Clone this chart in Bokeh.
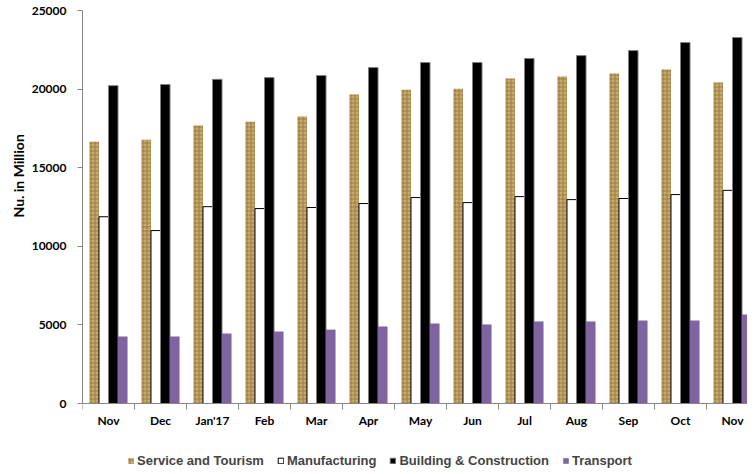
from bokeh.plotting import figure
from bokeh.models import ColumnDataSource, FixedTicker, Legend, LegendItem, Range1d, Title
from bokeh.transform import dodge
from bokeh.embed import file_html
from bokeh.resources import INLINE

months = ["Nov", "Dec", "Jan'17", "Feb", "Mar", "Apr", "May", "Jun", "Jul", "Aug", "Sep", "Oct", "Nov"]
service = [16650, 16780, 17680, 17930, 18250, 19650, 19960, 20030, 20670, 20800, 20990, 21240, 20420]
manufacturing = [11880, 11000, 12520, 12400, 12470, 12720, 13100, 12780, 13160, 12970, 13040, 13290, 13560]
building = [20220, 20290, 20620, 20730, 20860, 21370, 21690, 21690, 21950, 22130, 22450, 22960, 23280]
transport = [4260, 4260, 4450, 4580, 4700, 4900, 5090, 5030, 5220, 5220, 5280, 5280, 5660]
y_ticks = [0, 5000, 10000, 15000, 20000, 25000]

pos = [i + 0.5 for i in range(len(months))]
src = ColumnDataSource(dict(x=pos, service=service, manufacturing=manufacturing,
                            building=building, transport=transport))

W = 747
H = 470
LEFT = 82
TOP = 10
ZERO_PX = 403
CAT_PX = 52
ymin = -25000 * (H - ZERO_PX) / (ZERO_PX - TOP)

p = figure(width=W, height=H, output_backend="svg", toolbar_location=None,
           x_range=Range1d(0, (W - LEFT) / CAT_PX), y_range=Range1d(ymin, 25000),
           min_border_left=LEFT, min_border_top=TOP, min_border_right=0, min_border_bottom=0)
p.outline_line_color = None
p.xgrid.visible = False
p.ygrid.visible = False
p.background_fill_color = "white"
p.border_fill_color = "white"

bw = 0.183
r1 = p.vbar(x=dodge("x", -0.2745, range=p.x_range), top="service", width=bw, source=src,
            fill_color="#c8a96c", line_color=None,
            hatch_pattern="cross", hatch_color="#7d5d28", hatch_scale=4, hatch_weight=1, hatch_alpha=0.55)
r2 = p.vbar(x=dodge("x", -0.0915, range=p.x_range), top="manufacturing", width=bw, source=src,
            fill_color="white", line_color="black", line_width=1)
r3 = p.vbar(x=dodge("x", 0.0915, range=p.x_range), top="building", width=bw, source=src,
            fill_color="black", line_color="#7f7f7f", line_width=1)
r4 = p.vbar(x=dodge("x", 0.2745, range=p.x_range), top="transport", width=bw, source=src,
            fill_color="#8064A2", line_color=None)

font = "Lato"
ax = p.xaxis[0]
ax.fixed_location = 0
ax.ticker = FixedTicker(ticks=pos, minor_ticks=list(range(len(months) + 1)))
ax.major_label_overrides = {pos[i]: months[i] for i in range(len(months))}
ax.axis_line_color = "#868686"
ax.major_tick_out = 0
ax.major_tick_in = 0
ax.minor_tick_out = 6
ax.minor_tick_in = 0
ax.minor_tick_line_color = "#868686"
ax.major_label_standoff = 3
ax.major_label_text_font = font
ax.major_label_text_font_style = "bold"
ax.major_label_text_font_size = "12px"
ax.major_label_text_color = "black"

ay = p.yaxis[0]
ay.ticker = FixedTicker(ticks=y_ticks)
ay.bounds = (0, 25000)
ay.axis_line_color = "#868686"
ay.major_tick_out = 5
ay.major_tick_in = 0
ay.major_tick_line_color = "#868686"
ay.minor_tick_out = 0
ay.minor_tick_in = 0
ay.major_label_standoff = 11
ay.major_label_text_font = font
ay.major_label_text_font_style = "bold"
ay.major_label_text_font_size = "12px"
ay.major_label_text_color = "black"

ylab = Title(text="Nu. in Million", align="left", offset=H - 217,
             text_font=font, text_font_style="bold", text_font_size="14px",
             text_color="black", standoff=4)
p.add_layout(ylab, "left")

legend = Legend(items=[
    LegendItem(label="Service and Tourism", renderers=[r1]),
    LegendItem(label="Manufacturing", renderers=[r2]),
    LegendItem(label="Building & Construction", renderers=[r3]),
    LegendItem(label="Transport", renderers=[r4]),
], orientation="horizontal", location=(45, 2))
legend.padding = 0
legend.margin = 0
legend.spacing = 13
legend.border_line_color = None
legend.background_fill_alpha = 0
legend.glyph_width = 7
legend.glyph_height = 7
legend.label_standoff = 3
legend.label_text_font = "Liberation Sans"
legend.label_text_font_style = "bold"
legend.label_text_font_size = "13px"
legend.label_height = 14
p.add_layout(legend, "center")

open("out.html", "w").write(file_html(p, INLINE))
